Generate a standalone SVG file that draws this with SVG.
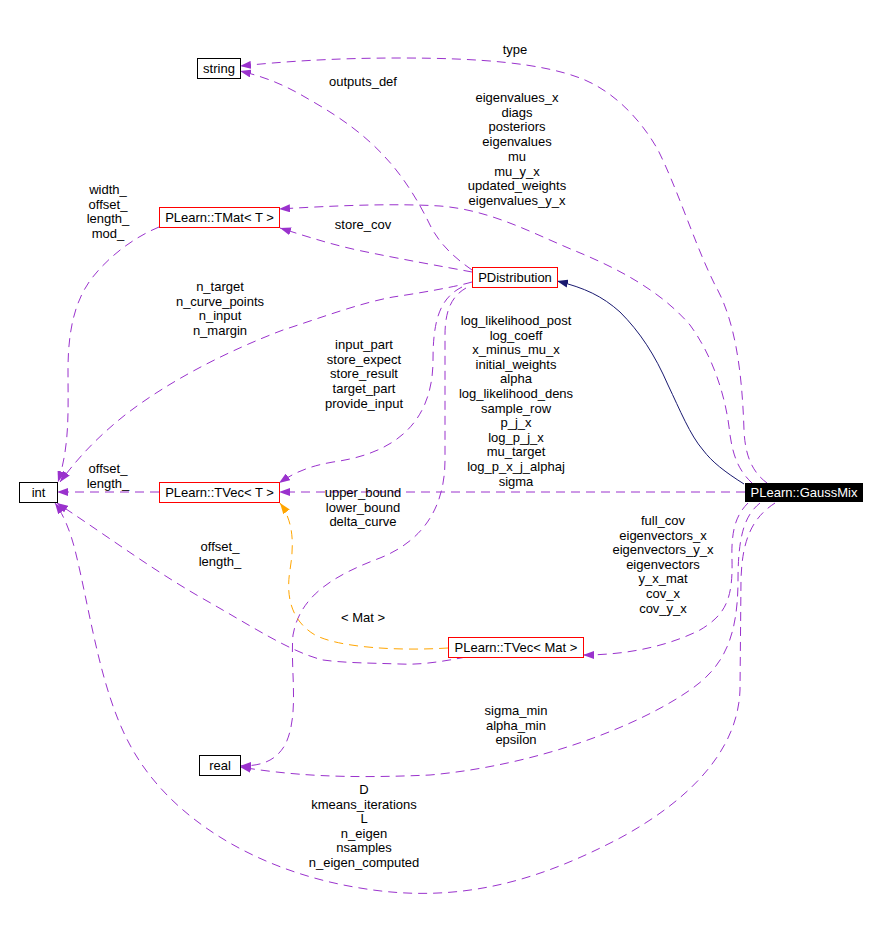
<svg xmlns="http://www.w3.org/2000/svg" width="878" height="934" viewBox="0 0 878 934">
<style>
text{font-family:"Liberation Sans",Arial,sans-serif;font-size:13px;fill:#000}
.lbl{text-anchor:middle}
.box{fill:#fff;stroke:#000;stroke-width:1}
.red{fill:#fff;stroke:#ff0000;stroke-width:1}
.e{fill:none;stroke:#9a32cd;stroke-width:1;stroke-dasharray:9,6;marker-end:url(#ap)}
.o{fill:none;stroke:#ffa500;stroke-width:1;stroke-dasharray:9,6;marker-end:url(#ao)}
.n{fill:none;stroke:#191970;stroke-width:1;marker-end:url(#an)}
</style>
<defs>
<marker id="ap" markerWidth="11" markerHeight="8" refX="11" refY="4" orient="auto" markerUnits="userSpaceOnUse"><path d="M0,0 L11,4 L0,8 z" fill="#9a32cd"/></marker>
<marker id="ao" markerWidth="11" markerHeight="8" refX="11" refY="4" orient="auto" markerUnits="userSpaceOnUse"><path d="M0,0 L11,4 L0,8 z" fill="#ffa500"/></marker>
<marker id="an" markerWidth="11" markerHeight="8" refX="11" refY="4" orient="auto" markerUnits="userSpaceOnUse"><path d="M0,0 L11,4 L0,8 z" fill="#191970"/></marker>
</defs>
<rect width="878" height="934" fill="#fff"/>
<g id="connectors">
<path class="n" d="M744,484 C725,472 712,462 703,450 C690,435 680,410 668,385 C655,355 640,332 620,312 C602,296 585,288 557,281"/>
<path class="e" d="M767,483 C752,472 745,455 744,430 C742,370 735,320 715,285 C695,245 678,190 658,150 C640,118 612,90 580,78 C540,63 480,58 400,58 C330,58 280,62 240,66"/>
<path class="e" d="M752,483 C738,470 733,455 730,435 C726,395 712,355 690,325 C660,290 615,267 573,250 C530,232 490,210 440,206 C390,203 330,206 279,209"/>
<path class="e" d="M745,492 L279,492"/>
<path class="e" d="M748,503 C736,515 731,530 732,560 C733,600 725,615 700,630 C670,645 630,655 583,655"/>
<path class="e" d="M760,503 C745,515 738,535 738,580 C738,640 722,668 690,690 C640,725 540,765 430,775 C340,779 290,775 240,767"/>
<path class="e" d="M775,503 C752,518 742,540 741,580 L740,690 C738,750 690,800 620,838 C540,880 460,905 360,888 C260,872 170,820 130,745 C100,690 90,610 75,550 C70,530 63,514 55,503"/>
<path class="e" d="M472,282 C455,287 420,293 393,297 C360,303 320,318 283,330 C230,350 170,380 125,415 C100,435 80,455 60,482"/>
<path class="e" d="M159,227 C135,237 110,255 92,278 C75,300 68,330 68,370 C68,410 70,445 58,482"/>
<path class="e" d="M472,272 C440,266 400,259 357,250 C330,244 305,236 280,228"/>
<path class="e" d="M472,270 C455,258 440,245 430,225 C418,200 402,175 385,157 C365,135 340,117 310,100 C290,88 270,78 240,71"/>
<path class="e" d="M462,287 C440,298 433,320 433,360 C433,430 385,455 333,462 C310,466 295,472 279,483"/>
<path class="e" d="M466,288 C452,296 445,310 445,335 L445,460 C445,505 425,540 380,558 C335,575 300,595 293,635 C290,670 300,715 285,745 C275,762 260,766 240,766"/>
<path class="e" d="M466,657 C440,662 420,665 400,664 C370,663 345,663 323,660 C290,652 250,625 200,597 C150,568 110,538 57,503"/>
<path class="e" d="M159,492 L57,492"/>
<path class="o" d="M448,648 C400,651 340,648 315,635 C290,620 286,595 290,570 C294,545 294,522 280,503"/>
</g>
<g id="labels">
<text class="lbl" x="515" y="54">type</text>
<text class="lbl" x="363" y="86">outputs_def</text>
<text class="lbl" x="517"><tspan x="517" y="102">eigenvalues_x</tspan><tspan x="517" y="116.7">diags</tspan><tspan x="517" y="131.4">posteriors</tspan><tspan x="517" y="146.1">eigenvalues</tspan><tspan x="517" y="160.8">mu</tspan><tspan x="517" y="175.5">mu_y_x</tspan><tspan x="517" y="190.2">updated_weights</tspan><tspan x="517" y="204.9">eigenvalues_y_x</tspan></text>
<text class="lbl" x="108"><tspan x="108" y="194">width_</tspan><tspan x="108" y="208.7">offset_</tspan><tspan x="108" y="223.4">length_</tspan><tspan x="108" y="238.1">mod_</tspan></text>
<text class="lbl" x="363" y="229">store_cov</text>
<text class="lbl" x="220"><tspan x="220" y="291">n_target</tspan><tspan x="220" y="305.7">n_curve_points</tspan><tspan x="220" y="320.4">n_input</tspan><tspan x="220" y="335.1">n_margin</tspan></text>
<text class="lbl" x="364"><tspan x="364" y="349">input_part</tspan><tspan x="364" y="363.7">store_expect</tspan><tspan x="364" y="378.4">store_result</tspan><tspan x="364" y="393.1">target_part</tspan><tspan x="364" y="407.8">provide_input</tspan></text>
<text class="lbl" x="516"><tspan x="516" y="325">log_likelihood_post</tspan><tspan x="516" y="339.6">log_coeff</tspan><tspan x="516" y="354.2">x_minus_mu_x</tspan><tspan x="516" y="368.8">initial_weights</tspan><tspan x="516" y="383.4">alpha</tspan><tspan x="516" y="398">log_likelihood_dens</tspan><tspan x="516" y="412.6">sample_row</tspan><tspan x="516" y="427.2">p_j_x</tspan><tspan x="516" y="441.8">log_p_j_x</tspan><tspan x="516" y="456.4">mu_target</tspan><tspan x="516" y="471">log_p_x_j_alphaj</tspan><tspan x="516" y="485.6">sigma</tspan></text>
<text class="lbl" x="108"><tspan x="108" y="473">offset_</tspan><tspan x="108" y="487.5">length_</tspan></text>
<text class="lbl" x="363"><tspan x="363" y="497">upper_bound</tspan><tspan x="363" y="511.6">lower_bound</tspan><tspan x="363" y="526.2">delta_curve</tspan></text>
<text class="lbl" x="220"><tspan x="220" y="551">offset_</tspan><tspan x="220" y="565.6">length_</tspan></text>
<text class="lbl" x="363" y="622">&lt; Mat &gt;</text>
<text class="lbl" x="663"><tspan x="663" y="525">full_cov</tspan><tspan x="663" y="539.6">eigenvectors_x</tspan><tspan x="663" y="554.2">eigenvectors_y_x</tspan><tspan x="663" y="568.8">eigenvectors</tspan><tspan x="663" y="583.4">y_x_mat</tspan><tspan x="663" y="598">cov_x</tspan><tspan x="663" y="612.6">cov_y_x</tspan></text>
<text class="lbl" x="516"><tspan x="516" y="715">sigma_min</tspan><tspan x="516" y="729.6">alpha_min</tspan><tspan x="516" y="744.2">epsilon</tspan></text>
<text class="lbl" x="364"><tspan x="364" y="794">D</tspan><tspan x="364" y="808.6">kmeans_iterations</tspan><tspan x="364" y="823.2">L</tspan><tspan x="364" y="837.8">n_eigen</tspan><tspan x="364" y="852.4">nsamples</tspan><tspan x="364" y="867">n_eigen_computed</tspan></text>
</g>
<g id="node-string"><rect class="box" x="197.5" y="58.5" width="43" height="20"/><text class="lbl" x="219" y="73">string</text></g>
<g id="node-tmat"><rect class="red" x="159.5" y="207.5" width="120" height="20"/><text class="lbl" x="219.5" y="222">PLearn::TMat&lt; T &gt;</text></g>
<g id="node-pdistribution"><rect class="red" x="472.5" y="267.5" width="85" height="20"/><text class="lbl" x="515" y="282">PDistribution</text></g>
<g id="node-int"><rect class="box" x="19.5" y="482.5" width="38" height="20"/><text class="lbl" x="38.5" y="497">int</text></g>
<g id="node-tvec-t"><rect class="red" x="159.5" y="482.5" width="120" height="20"/><text class="lbl" x="219.5" y="497">PLearn::TVec&lt; T &gt;</text></g>
<g id="node-gaussmix"><rect x="745" y="483" width="118" height="19" fill="#000"/><text class="lbl" x="804" y="497" style="fill:#fff">PLearn::GaussMix</text></g>
<g id="node-tvec-mat"><rect class="red" x="448.5" y="637.5" width="135" height="20"/><text class="lbl" x="516" y="652">PLearn::TVec&lt; Mat &gt;</text></g>
<g id="node-real"><rect class="box" x="199.5" y="755.5" width="41" height="20"/><text class="lbl" x="220" y="770">real</text></g>
</svg>
